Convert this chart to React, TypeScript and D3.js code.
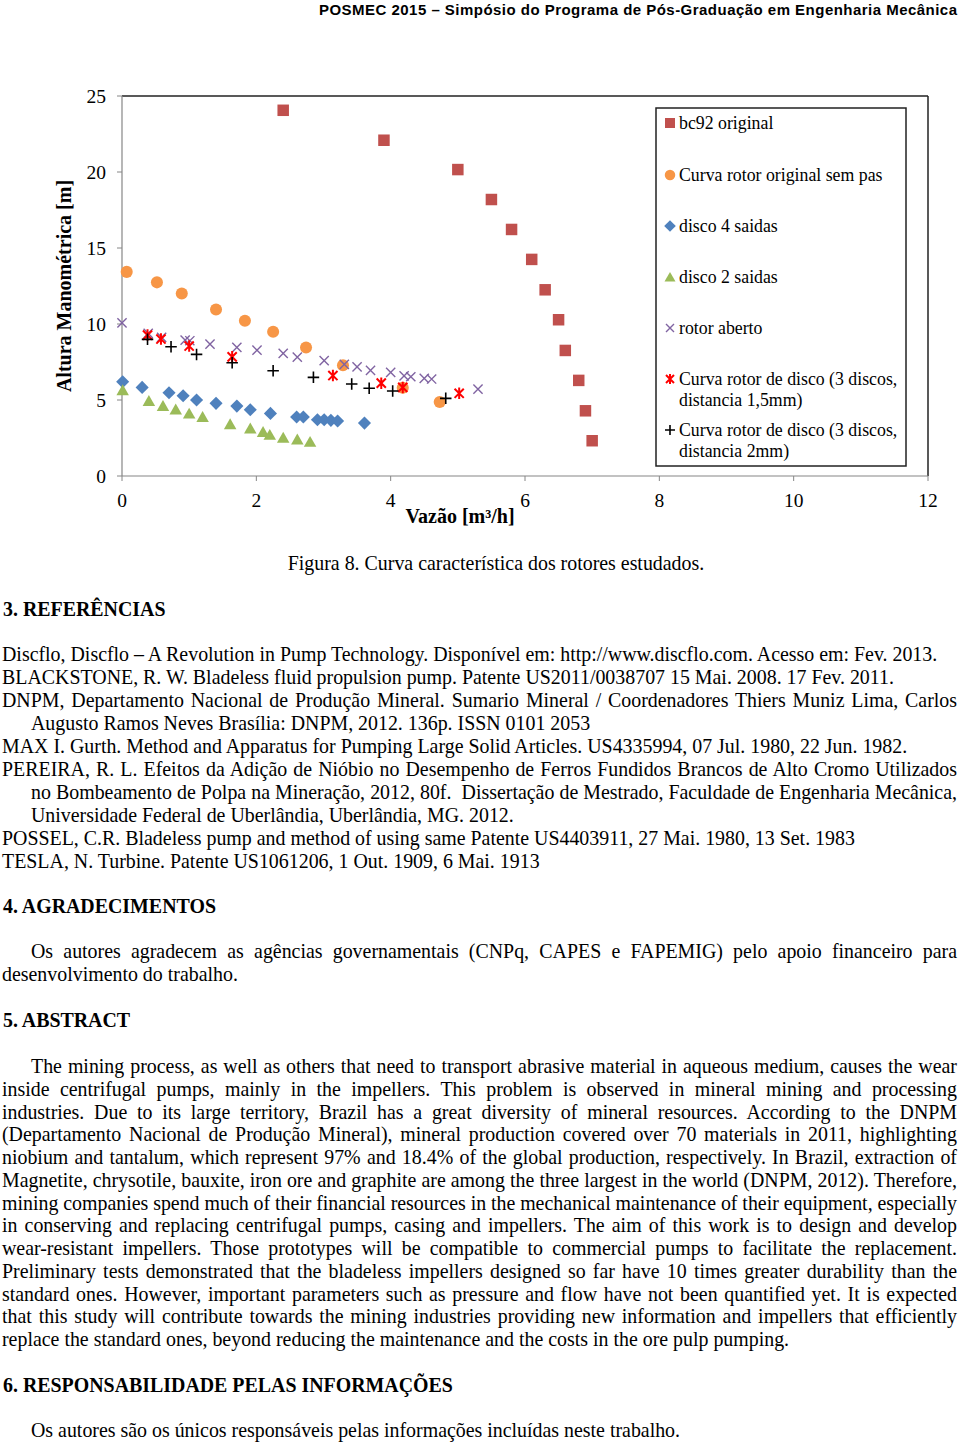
import React, { useEffect, useRef } from "react";
import * as d3 from "d3";

// --- chart data (Vazão m³/h, Altura m) ---
const bc92Q = [2.4, 3.9, 5.0, 5.5, 5.8, 6.1, 6.3, 6.5, 6.6, 6.8, 6.9, 7.0];
const bc92H = [24.06, 22.09, 20.16, 18.19, 16.22, 14.25, 12.25, 10.28, 8.26, 6.29, 4.29, 2.32];

const semPasQ = [0.07, 0.52, 0.89, 1.4, 1.83, 2.25, 2.74, 3.29, 4.18, 4.73];
const semPasH = [13.43, 12.74, 12.01, 10.96, 10.21, 9.49, 8.46, 7.28, 5.81, 4.87];

const disco4Q = [0.01, 0.3, 0.7, 0.91, 1.11, 1.4, 1.71, 1.91, 2.21, 2.6, 2.7, 2.91, 3.01, 3.11, 3.21, 3.61];
const disco4H = [6.2, 5.83, 5.48, 5.28, 5.0, 4.78, 4.6, 4.36, 4.12, 3.88, 3.88, 3.7, 3.7, 3.66, 3.62, 3.48];

const disco2Q = [0.01, 0.4, 0.61, 0.8, 1.0, 1.2, 1.61, 1.91, 2.1, 2.2, 2.4, 2.61, 2.8];
const disco2H = [5.65, 4.95, 4.62, 4.39, 4.12, 3.9, 3.42, 3.14, 2.91, 2.72, 2.53, 2.42, 2.26];

const abertoQ = [0.0, 0.39, 0.59, 0.94, 1.01, 1.31, 1.71, 2.01, 2.4, 2.61, 3.01, 3.31, 3.5, 3.7, 4.0, 4.2, 4.3, 4.5, 4.61, 5.3];
const abertoH = [10.08, 9.38, 9.12, 8.94, 8.9, 8.68, 8.46, 8.28, 8.07, 7.82, 7.59, 7.34, 7.18, 6.95, 6.82, 6.59, 6.53, 6.42, 6.38, 5.72];

const disco15Q = [0.38, 0.58, 1.0, 1.64, 3.14, 3.86, 4.18, 5.02];
const disco15H = [9.27, 9.01, 8.55, 7.84, 6.61, 6.11, 5.83, 5.44];

const disco2mmQ = [0.38, 0.73, 1.11, 1.64, 2.25, 2.85, 3.42, 3.68, 4.03, 4.82];
const disco2mmH = [8.99, 8.5, 8.0, 7.45, 6.92, 6.49, 6.05, 5.77, 5.59, 5.11];

const xTicks = [0, 2, 4, 6, 8, 10, 12];
const yTicks = [0, 5, 10, 15, 20, 25];

const seriesNames = [
  ["bc92 original"],
  ["Curva rotor original sem pas"],
  ["disco 4 saidas"],
  ["disco 2 saidas"],
  ["rotor aberto"],
  ["Curva rotor de disco (3 discos,", "distancia 1,5mm)"],
  ["Curva rotor de disco (3 discos,", "distancia 2mm)"],
];

// --- page text ---
const header = "POSMEC 2015 – Simpósio do Programa de Pós-Graduação em Engenharia Mecânica";
const caption = "Figura 8. Curva característica dos rotores estudados.";

// [text, indented, justified]
const refLines: [string, boolean, boolean][] = [
  ["Discflo, Discflo – A Revolution in Pump Technology. Disponível em: http://www.discflo.com. Acesso em: Fev. 2013.", false, false],
  ["BLACKSTONE, R. W. Bladeless fluid propulsion pump. Patente US2011/0038707 15 Mai. 2008. 17 Fev. 2011.", false, false],
  ["DNPM, Departamento Nacional de Produção Mineral. Sumario Mineral / Coordenadores Thiers Muniz Lima, Carlos", false, true],
  ["Augusto Ramos Neves Brasília: DNPM, 2012. 136p. ISSN 0101 2053", true, false],
  ["MAX I. Gurth. Method and Apparatus for Pumping Large Solid Articles. US4335994, 07 Jul. 1980, 22 Jun. 1982.", false, false],
  ["PEREIRA, R. L. Efeitos da Adição de Nióbio no Desempenho de Ferros Fundidos Brancos de Alto Cromo Utilizados", false, true],
  ["no Bombeamento de Polpa na Mineração, 2012, 80f.  Dissertação de Mestrado, Faculdade de Engenharia Mecânica,", true, true],
  ["Universidade Federal de Uberlândia, Uberlândia, MG. 2012.", true, false],
  ["POSSEL, C.R. Bladeless pump and method of using same Patente US4403911, 27 Mai. 1980, 13 Set. 1983", false, false],
  ["TESLA, N. Turbine. Patente US1061206, 1 Out. 1909, 6 Mai. 1913", false, false],
];

const agradLines: [string, boolean, boolean][] = [
  ["Os autores agradecem as agências governamentais (CNPq, CAPES e FAPEMIG) pelo apoio financeiro para", true, true],
  ["desenvolvimento do trabalho.", false, false],
];

const abstractLines: [string, boolean, boolean][] = [
  ["The mining process, as well as others that need to transport abrasive material in aqueous medium, causes the wear", true, true],
  ["inside centrifugal pumps, mainly in the impellers. This problem is observed in mineral mining and processing", false, true],
  ["industries. Due to its large territory, Brazil has a great diversity of mineral resources. According to the DNPM", false, true],
  ["(Departamento Nacional de Produção Mineral), mineral production covered over 70 materials in 2011, highlighting", false, true],
  ["niobium and tantalum, which represent 97% and 18.4% of the global production, respectively. In Brazil, extraction of", false, true],
  ["Magnetite, chrysotile, bauxite, iron ore and graphite are among the three largest in the world (DNPM, 2012). Therefore,", false, true],
  ["mining companies spend much of their financial resources in the mechanical maintenance of their equipment, especially", false, true],
  ["in conserving and replacing centrifugal pumps, casing and impellers. The aim of this work is to design and develop", false, true],
  ["wear-resistant impellers. Those prototypes will be compatible to commercial pumps to facilitate the replacement.", false, true],
  ["Preliminary tests demonstrated that the bladeless impellers designed so far have 10 times greater durability than the", false, true],
  ["standard ones. However, important parameters such as pressure and flow have not been quantified yet. It is expected", false, true],
  ["that this study will contribute towards the mining industries providing new information and impellers that efficiently", false, true],
  ["replace the standard ones, beyond reducing the maintenance and the costs in the ore pulp pumping.", false, false],
];

const respLines: [string, boolean, boolean][] = [
  ["Os autores são os únicos responsáveis pelas informações incluídas neste trabalho.", true, false],
];

const SERIF = "'Liberation Serif', 'Times New Roman', serif";
const SANS = "'Liberation Sans', Arial, sans-serif";
const FS = 19.9;
const RIGHT = 957;

const markerPath = (k: number, s: number) => {
  const h = s / 2;
  switch (k) {
    case 0: return `M${-h},${-h}H${h}V${h}H${-h}Z`;
    case 1: return d3.symbol(d3.symbolCircle, Math.PI * h * h * 1.1)();
    case 2: return `M0,${-h - 0.8}L${h + 0.8},0L0,${h + 0.8}L${-h - 0.8},0Z`;
    case 3: return `M0,${-h}L${h + 0.5},${h * 0.9}L${-h - 0.5},${h * 0.9}Z`;
    case 4: { const a = h * 0.8; return `M${-a},${-a}L${a},${a}M${-a},${a}L${a},${-a}`; }
    case 5: { const a = h * 0.8; return `M${-a},${-a}L${a},${a}M${-a},${a}L${a},${-a}M0,${-h}V${h}`; }
    default: return `M${-h},0H${h}M0,${-h}V${h}`;
  }
};

const fills = ["#C0504D", "#F79646", "#4F81BD", "#9BBB59", "none", "none", "none"];
const strokes = ["none", "none", "none", "none", "#8064A2", "#FF0000", "#000000"];
const strokeW = [0, 0, 0, 0, 1.4, 2, 1.6];

function TextBlock({ lines, y0, step }: { lines: [string, boolean, boolean][]; y0: number; step: number }) {
  return (
    <g fontFamily={SERIF} fontSize={FS} fill="#000">
      {lines.map(([t, ind, just], i) => (
        <text
          key={i}
          x={ind ? 31 : 2}
          y={y0 + i * step}
          data-justify={just ? RIGHT - (ind ? 31 : 2) : undefined}
          style={{ whiteSpace: "pre" }}
        >
          {t}
        </text>
      ))}
    </g>
  );
}

export default function App() {
  const ref = useRef<SVGSVGElement>(null);

  const x = d3.scaleLinear().domain([0, 12]).range([122, 928]);
  const y = d3.scaleLinear().domain([0, 25]).range([476, 96]);

  const series = [
    d3.zip(bc92Q, bc92H),
    d3.zip(semPasQ, semPasH),
    d3.zip(disco4Q, disco4H),
    d3.zip(disco2Q, disco2H),
    d3.zip(abertoQ, abertoH),
    d3.zip(disco15Q, disco15H),
    d3.zip(disco2mmQ, disco2mmH),
  ];

  useEffect(() => {
    if (!ref.current) return;
    d3.select(ref.current)
      .selectAll<SVGTextElement, unknown>("text[data-justify]")
      .each(function () {
        const target = +(this.getAttribute("data-justify") || 0);
        this.removeAttribute("word-spacing");
        const len = this.getComputedTextLength();
        const spaces = (this.textContent || "").split(" ").length - 1;
        if (spaces > 0) this.setAttribute("word-spacing", String((target - len) / spaces));
      });
  }, []);

  const legendY = [123, 175, 226, 277, 328, 379, 430];

  return (
    <svg
      ref={ref}
      width={960}
      height={1444}
      style={{ position: "absolute", left: 0, top: 0, background: "#fff" }}
    >
      <rect width={960} height={1444} fill="#fff" />
      <text x={957} y={15} textAnchor="end" fontFamily={SANS} fontWeight="bold" fontSize={15} textLength={638}>
        {header}
      </text>

      {/* chart frame */}
      <line x1={x(0)} x2={x(12)} y1={y(25)} y2={y(25)} stroke="#222" strokeWidth={1.5} />
      <line x1={x(12)} x2={x(12)} y1={y(25)} y2={y(0)} stroke="#222" strokeWidth={1.5} />
      <line x1={x(0)} x2={x(0)} y1={y(25)} y2={y(0)} stroke="#868686" strokeWidth={1.2} />
      <line x1={x(0)} x2={x(12)} y1={y(0)} y2={y(0)} stroke="#868686" strokeWidth={1.2} />

      {yTicks.map((t) => (
        <g key={"y" + t}>
          <line x1={x(0) - 5} x2={x(0)} y1={y(t)} y2={y(t)} stroke="#868686" />
          <text x={106} y={y(t)} dy="0.35em" textAnchor="end" fontFamily={SERIF} fontSize={19.5}>
            {t}
          </text>
        </g>
      ))}
      {xTicks.map((t) => (
        <g key={"x" + t}>
          <line x1={x(t)} x2={x(t)} y1={y(0)} y2={y(0) + 5} stroke="#868686" />
          <text x={x(t)} y={500} dy="0.35em" textAnchor="middle" fontFamily={SERIF} fontSize={19.5}>
            {t}
          </text>
        </g>
      ))}
      <text x={460} y={516} dy="0.35em" textAnchor="middle" fontFamily={SERIF} fontWeight="bold" fontSize={20}>
        Vazão [m³/h]
      </text>
      <text
        transform="translate(64,286) rotate(-90)"
        dy="0.35em"
        textAnchor="middle"
        fontFamily={SERIF}
        fontWeight="bold"
        fontSize={20}
      >
        Altura Manométrica [m]
      </text>

      {series.map((pts, k) => (
        <g key={"s" + k}>
          {pts.map(([q, h], i) => (
            <path
              key={i}
              transform={`translate(${x(q)},${y(h)})`}
              d={markerPath(k, 11.5) || ""}
              fill={fills[k]}
              stroke={strokes[k]}
              strokeWidth={strokeW[k]}
            />
          ))}
        </g>
      ))}

      {/* legend */}
      <rect x={656} y={108} width={250} height={358} fill="#fff" stroke="#222" strokeWidth={1.5} />
      {seriesNames.map((lines, k) => (
        <g key={"l" + k}>
          <path
            transform={`translate(670,${legendY[k]})`}
            d={markerPath(k, 10) || ""}
            fill={fills[k]}
            stroke={strokes[k]}
            strokeWidth={strokeW[k]}
          />
          {lines.map((t, j) => (
            <text key={j} x={679} y={legendY[k] + j * 21} dy="0.35em" fontFamily={SERIF} fontSize={17.8}>
              {t}
            </text>
          ))}
        </g>
      ))}

      <text x={496} y={570} textAnchor="middle" fontFamily={SERIF} fontSize={FS}>
        {caption}
      </text>

      <g fontFamily={SERIF} fontWeight="bold" fontSize={FS}>
        <text x={3} y={616}>3. REFERÊNCIAS</text>
        <text x={3} y={913}>4. AGRADECIMENTOS</text>
        <text x={3} y={1027}>5. ABSTRACT</text>
        <text x={3} y={1392}>6. RESPONSABILIDADE PELAS INFORMAÇÕES</text>
      </g>

      <TextBlock lines={refLines} y0={661} step={23} />
      <TextBlock lines={agradLines} y0={958} step={23} />
      <TextBlock lines={abstractLines} y0={1073} step={22.75} />
      <TextBlock lines={respLines} y0={1437} step={23} />
    </svg>
  );
}
